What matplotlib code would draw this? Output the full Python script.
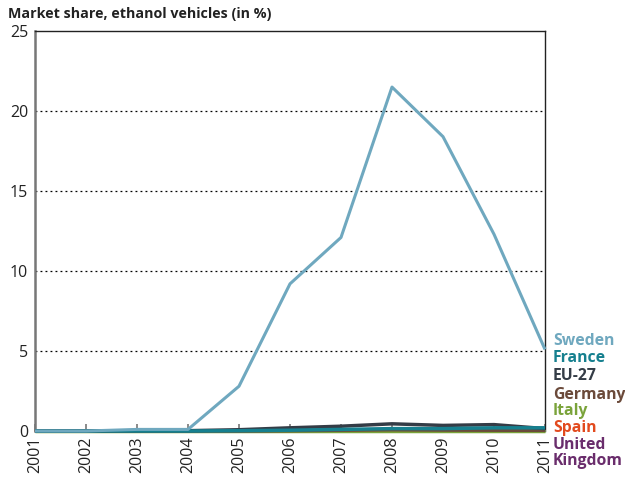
import matplotlib
matplotlib.use("Agg")
import matplotlib.pyplot as plt

years = [2001, 2002, 2003, 2004, 2005, 2006, 2007, 2008, 2009, 2010, 2011]
sweden = [0.0, 0.0, 0.1, 0.1, 2.8, 9.2, 12.1, 21.5, 18.4, 12.3, 5.1]
france = [0.0, 0.0, 0.0, 0.0, 0.02, 0.05, 0.1, 0.15, 0.15, 0.2, 0.2]
eu27 = [0.0, 0.0, 0.02, 0.02, 0.08, 0.2, 0.3, 0.45, 0.35, 0.4, 0.15]
germany = [0.0, 0.0, 0.0, 0.0, 0.0, 0.02, 0.05, 0.08, 0.06, 0.05, 0.04]
italy = [0.0, 0.0, 0.0, 0.0, 0.0, 0.0, 0.0, 0.0, 0.0, 0.0, 0.0]
spain = [0.0, 0.0, 0.0, 0.0, 0.0, 0.0, 0.01, 0.02, 0.02, 0.02, 0.01]
uk = [0.0, 0.0, 0.0, 0.0, 0.0, 0.01, 0.02, 0.03, 0.02, 0.02, 0.01]

series = [
    ("Sweden", sweden, "#6fa8bf"),
    ("France", france, "#16808f"),
    ("EU-27", eu27, "#343c46"),
    ("Germany", germany, "#6b4a3a"),
    ("Italy", italy, "#7aa33a"),
    ("Spain", spain, "#e24a1e"),
    ("United\nKingdom", uk, "#6a2d6c"),
]
yticks = [0, 5, 10, 15, 20, 25]

plt.rcParams['font.family'] = ['Open Sans', 'DejaVu Sans']
fig = plt.figure(figsize=(6.25, 4.78), dpi=100)
ax = fig.add_axes([0.056, 0.0983, 0.816, 0.8367])

draw_order = [6, 5, 4, 3, 2, 1, 0]
for i in draw_order:
    name, vals, col = series[i]
    lw = 2.2 if i == 0 else 2.5
    ax.plot(years, vals, color=col, lw=lw, zorder=3 + (7 - i) * 0.1 if i != 0 else 4, clip_on=False,
            solid_capstyle='butt')

ax.set_xlim(2001, 2011)
ax.set_ylim(0, 25)
ax.set_yticks(yticks)
ax.set_yticklabels([str(v) for v in yticks], fontsize=11.5, color="#222222")
ax.set_xticks(years)
ax.set_xticklabels([str(y) for y in years], rotation=90, fontsize=11.5, color="#222222")
ax.tick_params(axis='y', length=0, pad=5)
ax.tick_params(axis='x', direction='in', length=5, width=1.2, color="#777777", pad=4)
for v in yticks[1:-1]:
    ax.axhline(v, color="black", lw=0.9, ls=(0, (1.5, 2.5)), zorder=1)

ax.spines['left'].set_color("#777777")
ax.spines['left'].set_linewidth(1.8)
ax.spines['bottom'].set_color("#777777")
ax.spines['bottom'].set_linewidth(1.2)
ax.spines['top'].set_color("#222222")
ax.spines['top'].set_linewidth(1.0)
ax.spines['right'].set_color("#222222")
ax.spines['right'].set_linewidth(1.0)

fig.text(8 / 625, 1 - 14 / 478, "Market share, ethanol vehicles (in %)", fontsize=10.3,
         fontweight='bold', color="#222222", va='center', ha='left')

label_y = [341, 358, 376, 395, 411, 428, 453]
for (name, vals, col), yp in zip(series, label_y):
    fig.text(553 / 625, 1 - yp / 478, name, fontsize=11.3, fontweight='bold', color=col,
             va='center', ha='left', linespacing=1.0)

fig.savefig("out.png", dpi=100)
